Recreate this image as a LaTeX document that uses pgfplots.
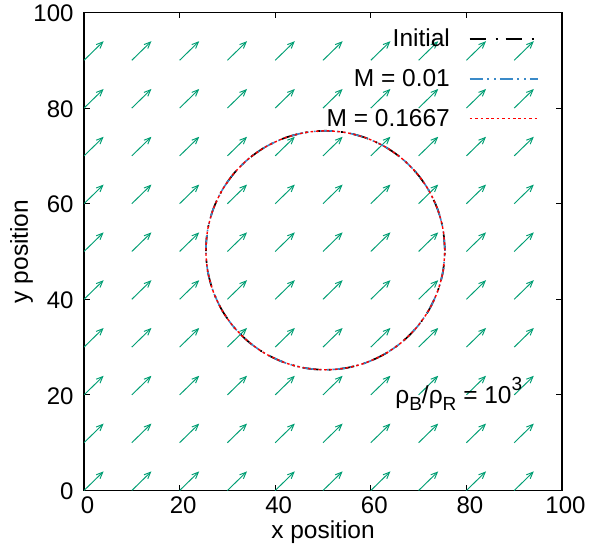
\documentclass[border=0pt]{standalone}
\usepackage{fontspec}
\setmainfont{Liberation Sans}
\usepackage{pgfplots}
\usepackage{pgfplotstable}
\pgfplotsset{compat=1.18}
\usetikzlibrary{arrows.meta}

\definecolor{vecgreen}{RGB}{0,158,115}
\definecolor{lineblue}{RGB}{58,138,200}
\definecolor{linered}{RGB}{255,0,0}

% velocity field: start point (x,y) and components (u,v)
\pgfplotstableread{
x y u v
0 0 4.1 4.0
10 0 4.1 4.0
20 0 4.1 4.0
30 0 4.1 4.0
40 0 4.1 4.0
50 0 4.1 4.0
60 0 4.1 4.0
70 0 4.1 4.0
80 0 4.1 4.0
90 0 4.1 4.0
0 10 4.1 4.0
10 10 4.1 4.0
20 10 4.1 4.0
30 10 4.1 4.0
40 10 4.1 4.0
50 10 4.1 4.0
60 10 4.1 4.0
70 10 4.1 4.0
80 10 4.1 4.0
90 10 4.1 4.0
0 20 4.1 4.0
10 20 4.1 4.0
20 20 4.1 4.0
30 20 4.1 4.0
40 20 4.1 4.0
50 20 4.1 4.0
60 20 4.1 4.0
70 20 4.1 4.0
80 20 4.1 4.0
90 20 4.1 4.0
0 30 4.1 4.0
10 30 4.1 4.0
20 30 4.1 4.0
30 30 4.1 4.0
40 30 4.1 4.0
50 30 4.1 4.0
60 30 4.1 4.0
70 30 4.1 4.0
80 30 4.1 4.0
90 30 4.1 4.0
0 40 4.1 4.0
10 40 4.1 4.0
20 40 4.1 4.0
30 40 4.1 4.0
40 40 4.1 4.0
50 40 4.1 4.0
60 40 4.1 4.0
70 40 4.1 4.0
80 40 4.1 4.0
90 40 4.1 4.0
0 50 4.1 4.0
10 50 4.1 4.0
20 50 4.1 4.0
30 50 4.1 4.0
40 50 4.1 4.0
50 50 4.1 4.0
60 50 4.1 4.0
70 50 4.1 4.0
80 50 4.1 4.0
90 50 4.1 4.0
0 60 4.1 4.0
10 60 4.1 4.0
20 60 4.1 4.0
30 60 4.1 4.0
40 60 4.1 4.0
50 60 4.1 4.0
60 60 4.1 4.0
70 60 4.1 4.0
80 60 4.1 4.0
90 60 4.1 4.0
0 70 4.1 4.0
10 70 4.1 4.0
20 70 4.1 4.0
30 70 4.1 4.0
40 70 4.1 4.0
50 70 4.1 4.0
60 70 4.1 4.0
70 70 4.1 4.0
80 70 4.1 4.0
90 70 4.1 4.0
0 80 4.1 4.0
10 80 4.1 4.0
20 80 4.1 4.0
30 80 4.1 4.0
40 80 4.1 4.0
50 80 4.1 4.0
60 80 4.1 4.0
70 80 4.1 4.0
80 80 4.1 4.0
90 80 4.1 4.0
0 90 4.1 4.0
10 90 4.1 4.0
20 90 4.1 4.0
30 90 4.1 4.0
40 90 4.1 4.0
50 90 4.1 4.0
60 90 4.1 4.0
70 90 4.1 4.0
80 90 4.1 4.0
90 90 4.1 4.0
}\velocity

% interface position, radius 25 about (50.5,50.25)
\pgfplotstableread{
x y
75.50 50.25
75.12 54.59
73.99 58.80
72.15 62.75
69.65 66.32
66.57 69.40
63.00 71.90
59.05 73.74
54.84 74.87
50.50 75.25
46.16 74.87
41.95 73.74
38.00 71.90
34.43 69.40
31.35 66.32
28.85 62.75
27.01 58.80
25.88 54.59
25.50 50.25
25.88 45.91
27.01 41.70
28.85 37.75
31.35 34.18
34.43 31.10
38.00 28.60
41.95 26.76
46.16 25.63
50.50 25.25
54.84 25.63
59.05 26.76
63.00 28.60
66.57 31.10
69.65 34.18
72.15 37.75
73.99 41.70
75.12 45.91
75.50 50.25
}\interface

\begin{document}
\begin{tikzpicture}
\useasboundingbox (0pt,0pt) rectangle (601pt,547pt);
\begin{axis}[
  at={(84pt,56.5pt)}, anchor=south west,
  scale only axis, width=478pt, height=478pt,
  xmin=0, xmax=100, ymin=0, ymax=100,
  xtick={0,20,...,100}, ytick={0,20,...,100},
  minor tick num=0,
  tick align=inside, major tick length=6pt,
  tick style={black, line width=0.9pt},
  axis line style={black, line width=1.3pt},
  /pgf/number format/assume math mode=true,
  ticklabel style={font=\fontsize{24}{28}\selectfont},
  xticklabel style={yshift=-3pt, xshift=3.5pt},
  yticklabel style={xshift=-7pt, yshift=-1pt},
  xlabel={x position}, ylabel={y position},
  label style={font=\fontsize{24.5}{28}\selectfont},
  xlabel style={at={(axis description cs:0.5,-0.0995)}, anchor=base},
  ylabel style={at={(axis description cs:-0.1172,0.5)}, anchor=base},
  legend cell align=right,
  legend plot pos=right,
  legend style={draw=none, fill=none, inner sep=0pt, outer sep=0pt,
    at={(axis cs:95.1,96.5)}, anchor=north east,
    font=\fontsize{24.5}{28}\selectfont,
    row sep=21pt, column sep=19pt,
    nodes={inner sep=0pt}},
  legend image code/.code={\draw[#1] (0pt,0pt) -- (68pt,0pt);},
]
\addplot[vecgreen, line width=0.95pt,
  quiver={u=\thisrow{u}, v=\thisrow{v},
    every arrow/.append style={-{Straight Barb[length=6.5pt,width=5.5pt]}}},
  forget plot] table[x=x, y=y] {\velocity};

\addplot[black, line width=1.7pt, smooth,
  dash pattern=on 16pt off 10pt on 2pt off 8pt] table {\interface};
\addlegendentry{Initial}
\addplot[lineblue, line width=1.6pt, smooth,
  dash pattern=on 13pt off 4.5pt on 1.5pt off 5.5pt on 1.5pt off 4pt] table {\interface};
\addlegendentry{M = 0.01}
\addplot[linered, line width=1.4pt, smooth,
  dash pattern=on 2.7pt off 2.7pt] table {\interface};
\addlegendentry{M = 0.1667}

\node[anchor=base west, font=\fontsize{24.5}{28}\selectfont, inner sep=0pt]
  at (axis cs:65.1,18.3)
  {ρ\raisebox{-0.3em}{\fontsize{19}{19}\selectfont B}/ρ\raisebox{-0.3em}{\fontsize{19}{19}\selectfont R} = 10\raisebox{0.5em}{\fontsize{19}{19}\selectfont 3}};
\end{axis}
\end{tikzpicture}
\end{document}
